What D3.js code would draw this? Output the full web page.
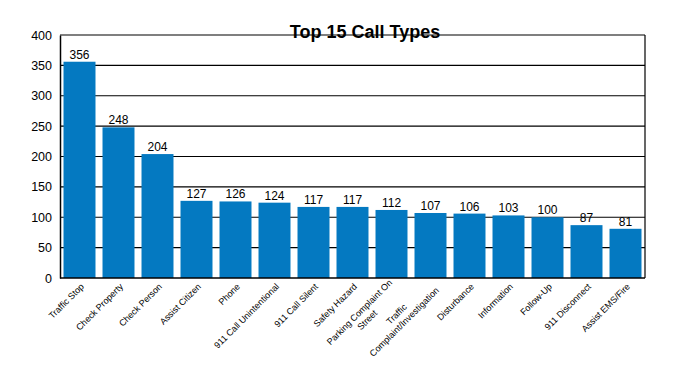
<!DOCTYPE html>
<html>
<head>
<meta charset="utf-8">
<script src="https://cdn.jsdelivr.net/npm/d3@7"></script>
<style>
body { margin: 0; background: #fff; }
text { font-family: "Liberation Sans", Arial, sans-serif; }
</style>
</head>
<body>
<svg id="chart" width="676" height="390"></svg>
<script>
var categories = ["Traffic Stop", "Check Property", "Check Person", "Assist Citizen", "Phone",
	"911 Call Unintentional", "911 Call Silent", "Safety Hazard", "Parking Complaint On\nStreet",
	"Traffic\nComplaint/Investigation", "Disturbance", "Information", "Follow-Up", "911 Disconnect", "Assist EMS/Fire"];
var counts = [356, 248, 204, 127, 126, 124, 117, 117, 112, 107, 106, 103, 100, 87, 81];
var yTicks = [0, 50, 100, 150, 200, 250, 300, 350, 400];

var margin = {top: 35, left: 60, right: 31, bottom: 112};
var w = 676, h = 390;
var svg = d3.select("#chart");

var x = d3.scaleBand().domain(categories).range([margin.left, w - margin.right]).paddingInner(0.18).paddingOuter(0.09);
var y = d3.scaleLinear().domain([0, 400]).range([h - margin.bottom, margin.top]);

// gridlines
svg.append("g").selectAll("line")
	.data(yTicks.slice(1))
	.enter().append("line")
	.attr("x1", margin.left).attr("x2", w - margin.right)
	.attr("y1", function(d) { return y(d); }).attr("y2", function(d) { return y(d); })
	.attr("stroke", "#000").attr("stroke-width", 1.2);

// right border
svg.append("line")
	.attr("x1", w - margin.right).attr("x2", w - margin.right)
	.attr("y1", y(400)).attr("y2", y(0))
	.attr("stroke", "#000").attr("stroke-width", 1.2);

// bars
svg.append("g").selectAll("rect")
	.data(counts)
	.enter().append("rect")
	.attr("x", function(d, i) { return x(categories[i]); })
	.attr("y", function(d) { return y(d); })
	.attr("width", x.bandwidth())
	.attr("height", function(d) { return y(0) - y(d); })
	.attr("fill", "#0479c1");

// value labels
svg.append("g").selectAll("text")
	.data(counts)
	.enter().append("text")
	.attr("x", function(d, i) { return x(categories[i]) + x.bandwidth() / 2; })
	.attr("y", function(d) { return y(d) - 3; })
	.attr("text-anchor", "middle")
	.attr("font-size", 12)
	.text(function(d) { return d; });

// y axis
var yAxis = svg.append("g")
	.attr("transform", "translate(" + margin.left + ",0)")
	.call(d3.axisLeft(y).tickValues(yTicks).tickSize(0).tickPadding(8));
yAxis.select(".domain").attr("stroke", "#000").attr("stroke-width", 1.5);
yAxis.selectAll("text").attr("font-size", 12.5).attr("fill", "#000").attr("font-family", "Liberation Sans, Arial, sans-serif");

// x axis line
svg.append("line")
	.attr("x1", margin.left).attr("x2", w - margin.right)
	.attr("y1", y(0)).attr("y2", y(0))
	.attr("stroke", "#000").attr("stroke-width", 1.5);

// x labels, rotated
var labels = svg.append("g").selectAll("g")
	.data(categories)
	.enter().append("g")
	.attr("transform", function(d) {
		return "translate(" + (x(d) + x.bandwidth() / 2 + 3) + "," + (y(0) + 7) + ") rotate(-45)";
	});
labels.each(function(d) {
	var g = d3.select(this);
	var lines = d.split("\n");
	var t = g.append("text").attr("font-size", 9).attr("text-anchor", "middle");
	lines.forEach(function(l, k) {
		t.append("tspan").attr("x", 0).attr("dy", k === 0 ? 0 : 11).text(l);
	});
	var maxW = 0;
	t.selectAll("tspan").each(function() { maxW = Math.max(maxW, this.getComputedTextLength()); });
	var shiftY = (lines.length - 1) * 11;
	t.attr("transform", "translate(" + (-maxW / 2) + "," + (3 - shiftY / 2) + ")");
});

// title
svg.append("text")
	.attr("x", 365).attr("y", 38)
	.attr("text-anchor", "middle")
	.attr("font-size", 18)
	.attr("font-weight", "bold")
	.text("Top 15 Call Types");
</script>
</body>
</html>
